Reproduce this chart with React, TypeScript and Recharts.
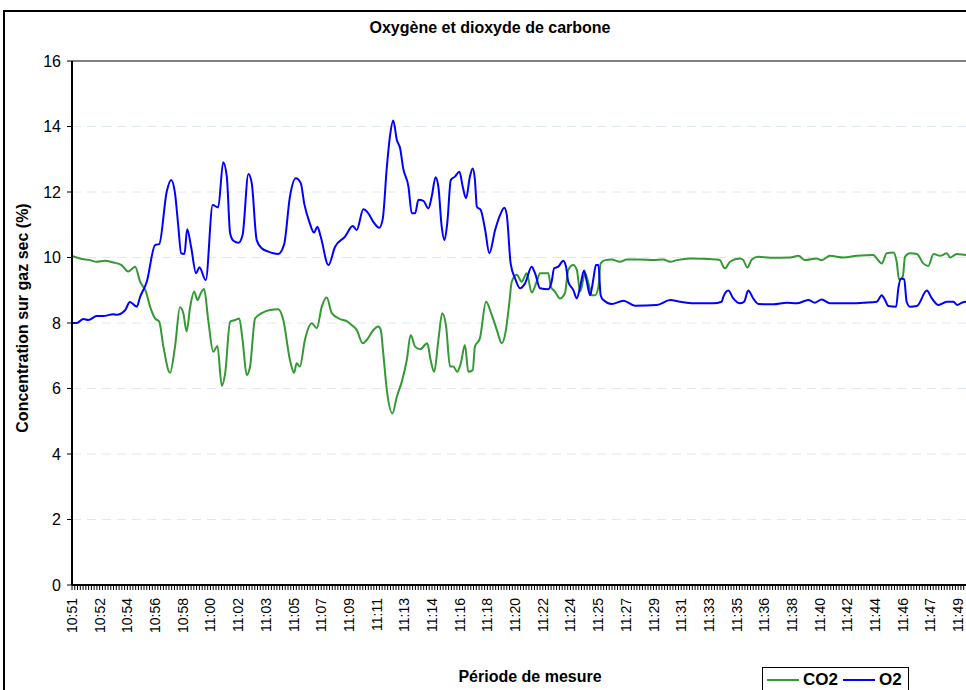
import React from 'react';
import { LineChart, Line, XAxis, YAxis, CartesianGrid, ReferenceLine } from 'recharts';

const FONT = 'Liberation Sans, Arial, sans-serif';

const timeLabels = ['10:51','10:52','10:54','10:56','10:58','11:00','11:02','11:03','11:05','11:07','11:09','11:11','11:13','11:14','11:16','11:18','11:20','11:22','11:24','11:25','11:27','11:29','11:31','11:33','11:35','11:36','11:38','11:40','11:42','11:44','11:46','11:47','11:49'];

// positions are expressed in label-interval units (0 = 10:51, 32 = 11:49)
const o2Times = [0,0.17,0.41,0.59,0.89,1.13,1.49,1.61,1.91,2.09,2.34,2.46,2.70,3.00,3.15,3.42,3.58,3.72,3.84,3.94,4.06,4.16,4.30,4.48,4.60,4.83,5.08,5.28,5.46,5.59,5.71,5.83,6.01,6.16,6.37,6.49,6.67,6.85,7.09,7.27,7.45,7.66,7.87,8.08,8.26,8.39,8.57,8.74,8.86,8.98,9.26,9.50,9.86,10.14,10.28,10.52,10.70,10.88,11.10,11.22,11.37,11.48,11.60,11.73,11.85,11.96,12.15,12.27,12.39,12.51,12.69,12.87,12.99,13.13,13.23,13.35,13.45,13.55,13.68,13.83,13.99,14.11,14.23,14.37,14.47,14.55,14.62,14.76,14.92,15.07,15.28,15.46,15.61,15.70,15.84,16.00,16.18,16.36,16.60,16.72,16.90,17.20,17.32,17.41,17.56,17.74,17.84,17.92,18.10,18.23,18.35,18.49,18.59,18.71,18.83,18.92,19.01,19.09,19.19,19.49,19.91,20.33,21.12,21.60,21.96,22.44,23.16,23.46,23.52,23.70,23.88,24.12,24.27,24.42,24.60,24.79,25.33,25.81,26.17,26.59,26.83,27.07,27.37,28.22,28.58,29.06,29.24,29.36,29.48,29.76,29.84,29.94,30.05,30.14,30.26,30.51,30.87,31.05,31.29,31.59,31.83,31.97,32.13,32.29,32.45];
const o2Values = [8.00,8.00,8.12,8.09,8.21,8.21,8.27,8.25,8.38,8.64,8.50,8.80,9.26,10.38,10.41,12.01,12.37,11.96,10.94,10.13,10.11,10.86,10.33,9.52,9.70,9.31,11.60,11.53,12.91,12.47,10.74,10.51,10.45,10.69,12.55,12.27,10.53,10.28,10.18,10.13,10.11,10.40,11.86,12.42,12.27,11.63,11.09,10.76,10.94,10.64,9.77,10.33,10.64,10.96,10.84,11.47,11.35,11.09,10.91,11.17,12.77,13.69,14.18,13.59,13.33,12.72,12.16,11.35,11.35,11.76,11.73,11.50,11.86,12.45,12.16,10.94,10.53,11.04,12.37,12.47,12.62,12.16,11.81,12.47,12.72,12.37,11.55,11.45,10.84,10.13,10.84,11.30,11.52,11.30,9.82,9.36,9.06,9.21,9.72,9.52,9.06,9.03,9.26,9.67,9.72,9.90,9.72,9.26,9.01,8.75,9.11,9.60,9.26,8.85,9.36,9.77,9.77,8.85,8.70,8.58,8.68,8.53,8.55,8.70,8.65,8.60,8.60,8.65,8.80,8.99,8.75,8.60,8.65,8.99,8.75,8.58,8.57,8.62,8.60,8.70,8.62,8.72,8.60,8.60,8.62,8.65,8.85,8.70,8.52,8.50,9.06,9.36,9.33,8.65,8.50,8.52,8.99,8.75,8.55,8.65,8.65,8.55,8.62,8.65,8.62];

const co2Times = [0,0.29,0.65,0.89,1.19,1.49,1.79,2.03,2.28,2.46,2.67,2.82,3.00,3.15,3.30,3.54,3.72,3.90,4.02,4.14,4.26,4.41,4.53,4.65,4.77,4.92,5.10,5.25,5.41,5.53,5.71,5.89,6.04,6.16,6.31,6.43,6.61,6.85,7.15,7.45,7.63,7.87,8.02,8.11,8.23,8.41,8.66,8.84,9.02,9.20,9.38,9.68,9.92,10.14,10.28,10.50,10.64,10.86,11.06,11.15,11.24,11.37,11.57,11.73,11.91,12.09,12.23,12.39,12.57,12.83,12.95,13.08,13.23,13.37,13.51,13.65,13.77,13.91,14.04,14.19,14.31,14.47,14.55,14.73,14.95,15.16,15.34,15.52,15.67,15.79,15.88,16.06,16.24,16.42,16.60,16.78,16.90,17.20,17.29,17.44,17.62,17.80,17.92,18.10,18.23,18.35,18.53,18.68,18.77,18.89,19.01,19.09,19.25,19.49,19.79,20.03,20.51,20.99,21.35,21.60,21.84,22.32,23.28,23.40,23.52,23.58,23.76,24.12,24.24,24.39,24.55,24.79,25.21,25.93,26.23,26.47,26.89,27.07,27.37,27.86,28.34,28.94,29.06,29.24,29.42,29.66,29.78,29.87,30.00,30.08,30.26,30.51,30.74,30.92,31.11,31.35,31.59,31.71,31.95,32.29,32.45];
const co2Values = [10.05,9.97,9.92,9.87,9.90,9.85,9.77,9.57,9.72,9.26,8.96,8.50,8.14,8.04,7.28,6.48,7.28,8.48,8.30,7.74,8.45,8.96,8.70,8.91,9.04,8.09,7.12,7.30,6.08,6.46,8.04,8.09,8.14,7.48,6.41,6.67,8.14,8.30,8.40,8.42,8.09,6.87,6.48,6.77,6.67,7.48,7.99,7.84,8.50,8.78,8.30,8.12,8.06,7.91,7.79,7.38,7.48,7.76,7.89,7.79,7.07,5.95,5.24,5.75,6.21,6.87,7.63,7.28,7.20,7.38,6.87,6.51,7.48,8.30,7.89,6.67,6.67,6.51,6.77,7.33,6.51,6.56,7.28,7.53,8.65,8.24,7.79,7.38,7.79,8.60,9.26,9.47,9.26,9.52,8.93,9.26,9.52,9.52,9.11,8.96,8.75,8.91,9.62,9.77,9.62,8.96,9.52,9.11,8.85,8.85,9.11,9.82,9.92,9.94,9.87,9.94,9.94,9.92,9.94,9.87,9.92,9.97,9.94,9.92,9.72,9.67,9.87,9.97,9.92,9.69,9.94,10.02,9.99,10.00,10.05,9.92,9.97,9.92,10.05,10.00,10.05,10.08,9.97,9.82,10.13,10.15,9.87,9.31,9.41,10.02,10.13,10.11,9.82,9.74,10.11,10.05,10.13,10.00,10.11,10.08,10.08];

const yTicks = [0, 2, 4, 6, 8, 10, 12, 14, 16];

const seriesNames = ['CO2', 'O2'];
const seriesColors = ['#339933', '#0000ff'];

const co2Data = co2Times.map((t, i) => ({ t, v: co2Values[i] }));
const o2Data = o2Times.map((t, i) => ({ t, v: o2Values[i] }));

// minor tick marks: ten per label interval
const minorTicks: number[] = [];
for (let i = 0; i <= 325; i++) minorTicks.push(i / 10);

const XTick = (props: any) => {
  const { x, y, payload } = props;
  const v = payload.value;
  const idx = Math.round(v);
  if (Math.abs(v - idx) > 1e-6 || !timeLabels[idx]) return <g />;
  return (
    <text
      x={x}
      y={y}
      transform={`rotate(-90, ${x}, ${y})`}
      textAnchor="end"
      dy="0.36em"
      fontSize={14}
      fill="#000"
      fontFamily={FONT}
    >
      {timeLabels[idx]}
    </text>
  );
};

export default function App() {
  return (
    <div style={{ position: 'absolute', left: 0, top: 0, width: 966, height: 690, overflow: 'hidden', background: '#fff' }}>
      <div style={{ position: 'absolute', left: 3, top: 10, width: 1100, height: 1100, border: '2px solid #000', boxSizing: 'border-box' }} />
      <div style={{ position: 'absolute', left: 0, top: 0 }}>
        <LineChart width={1000} height={720} margin={{ top: 61, right: 28, bottom: 85, left: 12 }}>
          <CartesianGrid horizontal vertical={false} stroke="#dfe8f4" strokeDasharray="9 6" />
          <XAxis
            dataKey="t"
            type="number"
            domain={[0, 32.5]}
            allowDataOverflow
            ticks={minorTicks}
            interval={0}
            tick={<XTick />}
            tickSize={5}
            tickMargin={8}
            height={50}
            axisLine={{ stroke: '#000', strokeWidth: 2 }}
            tickLine={{ stroke: '#000', strokeWidth: 1 }}
          />
          <YAxis
            type="number"
            domain={[0, 16]}
            ticks={yTicks}
            interval={0}
            width={60}
            tickSize={5}
            tickMargin={6}
            axisLine={{ stroke: '#000', strokeWidth: 2 }}
            tickLine={{ stroke: '#000', strokeWidth: 1 }}
            tick={{ fill: '#000', fontSize: 16, fontFamily: FONT }}
          />
          <ReferenceLine y={16} stroke="#808080" strokeWidth={2} />
          <Line data={co2Data} dataKey="v" name={seriesNames[0]} stroke={seriesColors[0]} strokeWidth={2} dot={false} type="monotone" isAnimationActive={false} />
          <Line data={o2Data} dataKey="v" name={seriesNames[1]} stroke={seriesColors[1]} strokeWidth={2} dot={false} type="monotone" isAnimationActive={false} />
        </LineChart>
      </div>
      <div
        style={{
          position: 'absolute',
          left: 762,
          top: 667,
          border: '1px solid #000',
          background: '#fff',
          display: 'flex',
          alignItems: 'center',
          padding: '3px 4px 12px 4px',
          fontFamily: FONT,
          fontWeight: 'bold',
          fontSize: 17,
          lineHeight: '17px',
        }}
      >
        {seriesNames.map((name, i) => (
          <div key={name} style={{ display: 'flex', alignItems: 'center', marginRight: i === 0 ? 5 : 2 }}>
            <svg width={32} height={10} style={{ marginRight: 4 }}>
              <line x1={0} y1={5} x2={32} y2={5} stroke={seriesColors[i]} strokeWidth={2} />
            </svg>
            <span>{name}</span>
          </div>
        ))}
      </div>
      <svg width={966} height={690} style={{ position: 'absolute', left: 0, top: 0, pointerEvents: 'none' }}>
        <text x={490} y={33} textAnchor="middle" fontFamily={FONT} fontWeight="bold" fontSize={16} fill="#000">
          Oxygène et dioxyde de carbone
        </text>
        <text x={530} y={682} textAnchor="middle" fontFamily={FONT} fontWeight="bold" fontSize={16} fill="#000">
          Période de mesure
        </text>
        <text
          x={28}
          y={318}
          transform="rotate(-90, 28, 318)"
          textAnchor="middle"
          fontFamily={FONT}
          fontWeight="bold"
          fontSize={16}
          fill="#000"
        >
          Concentration sur gaz sec (%)
        </text>
      </svg>
    </div>
  );
}
